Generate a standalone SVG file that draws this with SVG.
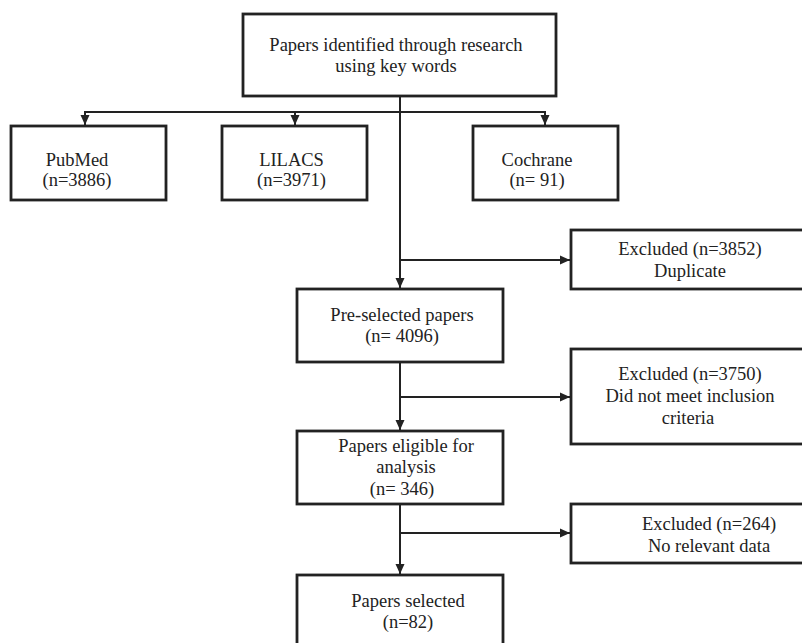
<svg xmlns="http://www.w3.org/2000/svg" width="802" height="643" viewBox="0 0 802 643">
<style>
.box{fill:#fff;stroke:#222;stroke-width:2.8}
.ln{fill:none;stroke:#222;stroke-width:2}
text{font-family:"Liberation Serif","Times New Roman",serif;font-size:18.5px;fill:#222;text-anchor:middle}
</style>
<defs>
<marker id="ah" markerUnits="userSpaceOnUse" markerWidth="10" markerHeight="10" viewBox="0 0 10 10" refX="10" refY="5" orient="auto">
<path d="M0,0.5 L10,5 L0,9.5 Z" fill="#222"/>
</marker>
</defs>
<rect width="802" height="643" fill="#fff"/>
<g id="connectors">
<line class="ln" x1="400" y1="96" x2="400" y2="288" marker-end="url(#ah)"/>
<line class="ln" x1="84" y1="112" x2="546" y2="112"/>
<line class="ln" x1="85" y1="112" x2="85" y2="125" marker-end="url(#ah)"/>
<line class="ln" x1="295" y1="112" x2="295" y2="125" marker-end="url(#ah)"/>
<line class="ln" x1="545" y1="112" x2="545" y2="125" marker-end="url(#ah)"/>
<line class="ln" x1="400" y1="260" x2="570" y2="260" marker-end="url(#ah)"/>
<line class="ln" x1="400" y1="362" x2="400" y2="430" marker-end="url(#ah)"/>
<line class="ln" x1="400" y1="397" x2="570" y2="397" marker-end="url(#ah)"/>
<line class="ln" x1="400" y1="504" x2="400" y2="574" marker-end="url(#ah)"/>
<line class="ln" x1="400" y1="533" x2="570" y2="533" marker-end="url(#ah)"/>
</g>
<g id="n-top">
<rect class="box" x="243" y="14" width="313" height="82"/>
<text x="396" y="51">Papers identified through research</text>
<text x="396" y="72">using key words</text>
</g>
<g id="n-pubmed">
<rect class="box" x="11" y="126" width="155" height="74"/>
<text x="77" y="166">PubMed</text>
<text x="77" y="186">(n=3886)</text>
</g>
<g id="n-lilacs">
<rect class="box" x="222" y="126" width="145" height="74"/>
<text x="291.5" y="166">LILACS</text>
<text x="291.5" y="186">(n=3971)</text>
</g>
<g id="n-cochrane">
<rect class="box" x="473" y="126" width="145" height="74"/>
<text x="537" y="166">Cochrane</text>
<text x="537" y="186">(n= 91)</text>
</g>
<g id="n-excl1">
<rect class="box" x="571" y="230" width="240" height="59"/>
<text x="690" y="255">Excluded (n=3852)</text>
<text x="690" y="277">Duplicate</text>
</g>
<g id="n-presel">
<rect class="box" x="297" y="289" width="206" height="73"/>
<text x="402" y="321">Pre-selected papers</text>
<text x="402" y="342">(n= 4096)</text>
</g>
<g id="n-excl2">
<rect class="box" x="571" y="349" width="240" height="95"/>
<text x="690" y="380">Excluded (n=3750)</text>
<text x="690" y="402">Did not meet inclusion</text>
<text x="688" y="424">criteria</text>
</g>
<g id="n-eligible">
<rect class="box" x="297" y="431" width="206" height="73"/>
<text x="406" y="452">Papers eligible for</text>
<text x="406" y="473">analysis</text>
<text x="402" y="495">(n= 346)</text>
</g>
<g id="n-excl3">
<rect class="box" x="571" y="504" width="240" height="59"/>
<text x="709" y="530">Excluded (n=264)</text>
<text x="709" y="552">No relevant data</text>
</g>
<g id="n-selected">
<rect class="box" x="297" y="575" width="206" height="80"/>
<text x="408" y="607">Papers selected</text>
<text x="408" y="628">(n=82)</text>
</g>
</svg>
